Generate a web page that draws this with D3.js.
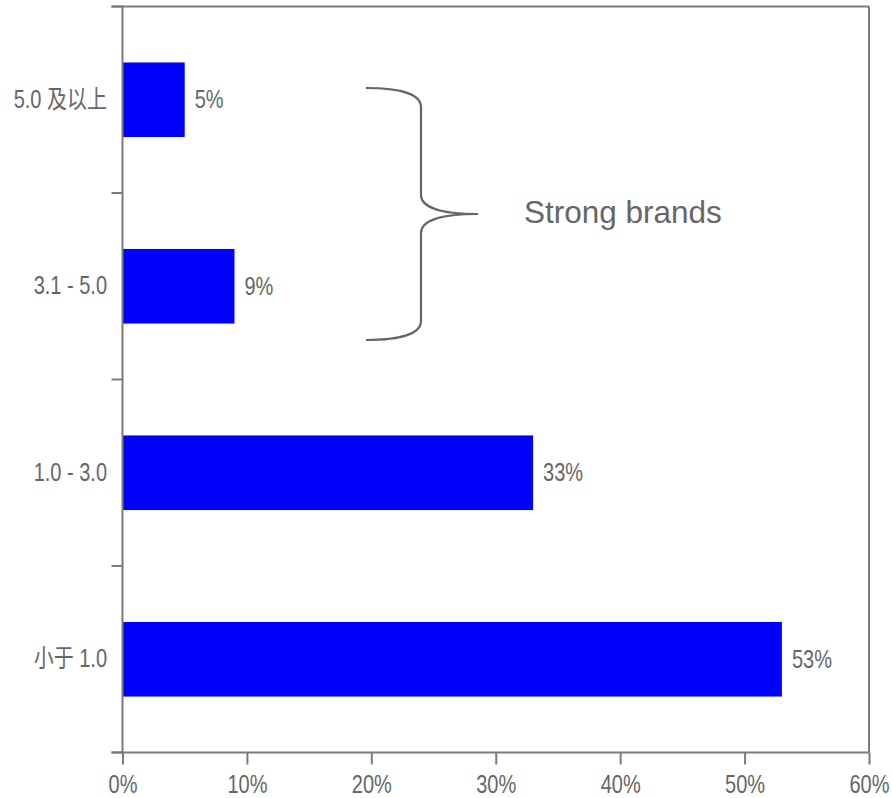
<!DOCTYPE html>
<html>
<head>
<meta charset="utf-8">
<script src="https://cdn.jsdelivr.net/npm/d3@7"></script>
<style>
  html, body { margin: 0; padding: 0; background: #fff; }
  svg { display: block; }
  .lbl { font-family: "Liberation Sans", Arial, "Noto Sans CJK SC", sans-serif; font-size: 25px; fill: #666; }
</style>
</head>
<body>
<svg id="chart" width="892" height="798"></svg>
<script>
// Share of brands by score range
const categories = ["5.0 及以上", "3.1 - 5.0", "1.0 - 3.0", "小于 1.0"];
const shares = [5, 9, 33, 53];
const xTicks = [0, 10, 20, 30, 40, 50, 60];
const bracketLabel = "Strong brands";

const plotLeft = 122.5, plotRight = 869, plotTop = 6.5, plotBottom = 752.5;
const axisColor = "#7a7a7a";
const textColor = "#666";
const condense = 0.8; // labels use a horizontally condensed face

const svg = d3.select("#chart");

// squeeze a label horizontally around its own anchor x
function condensed(sel) {
  sel.attr("transform", function () {
    const ax = +this.getAttribute("x") || 0;
    return `translate(${ax},0) scale(${condense},1) translate(${-ax},0)`;
  });
}

const x = d3.scaleLinear().domain([0, 60]).range([plotLeft, plotRight]);
const y = d3.scaleBand().domain(categories).range([plotTop, plotBottom])
  .paddingInner(0.6).paddingOuter(0.3);

// frame: top and right borders
svg.append("line").attr("x1", plotLeft - 11).attr("x2", plotRight).attr("y1", plotTop).attr("y2", plotTop)
  .attr("stroke", axisColor).attr("stroke-width", 2);
svg.append("line").attr("x1", plotRight).attr("x2", plotRight).attr("y1", plotTop).attr("y2", plotBottom)
  .attr("stroke", axisColor).attr("stroke-width", 2);

// bars
svg.append("g").selectAll("rect").data(categories).join("rect")
  .attr("x", x(0))
  .attr("y", d => y(d))
  .attr("width", (d, i) => x(shares[i]) - x(0))
  .attr("height", y.bandwidth())
  .attr("fill", "#0000ff");

// value labels
svg.append("g").selectAll("text").data(categories).join("text")
  .attr("class", "lbl")
  .attr("x", (d, i) => x(shares[i]) + 10)
  .attr("y", d => y(d) + y.bandwidth() / 2)
  .attr("dy", "0.35em")
  .text((d, i) => shares[i] + "%")
  .call(condensed);

// bottom axis
const xAxis = svg.append("g").attr("transform", `translate(0,${plotBottom})`)
  .call(d3.axisBottom(x).tickValues(xTicks).tickFormat(d => d + "%")
    .tickSize(12).tickSizeOuter(0).tickPadding(11));
xAxis.select(".domain").attr("stroke", axisColor).attr("stroke-width", 2)
  .attr("d", `M${plotLeft - 11},0H${plotRight}`);
xAxis.selectAll(".tick line").attr("stroke", axisColor).attr("stroke-width", 2);
xAxis.attr("font-family", null).attr("font-size", null);
xAxis.selectAll(".tick text").attr("class", "lbl").attr("fill", null).call(condensed);

// left axis: labels centred on bands, ticks between categories
const yAxis = svg.append("g").attr("transform", `translate(${plotLeft},0)`)
  .call(d3.axisLeft(y).tickSize(0).tickPadding(15.5));
yAxis.select(".domain").attr("stroke", axisColor).attr("stroke-width", 2)
  .attr("d", `M0,${plotTop}V${plotBottom}`);
yAxis.attr("font-family", null).attr("font-size", null);
yAxis.selectAll(".tick text").attr("class", "lbl").attr("fill", null).call(condensed);

const step = y.step();
const boundaries = categories.map(c => y(c) - step * y.paddingInner() / 2).concat([plotBottom]);
svg.append("g").selectAll("line").data(boundaries).join("line")
  .attr("x1", plotLeft - 11).attr("x2", plotLeft)
  .attr("y1", d => d).attr("y2", d => d)
  .attr("stroke", axisColor).attr("stroke-width", 2);

// bracket annotation over the two top groups
const bx0 = 366, bx1 = 421, tipX = 478;
const bTop = 88, bBot = 340, bMid = 214;
const bracePath = `M${bx0},${bTop} C${bx0 + 34},${bTop} ${bx1},${bTop + 6} ${bx1},${bTop + 19}
  L${bx1},${bMid - 19} C${bx1},${bMid - 7} ${bx1 + 19},${bMid} ${tipX},${bMid}
  C${bx1 + 19},${bMid} ${bx1},${bMid + 7} ${bx1},${bMid + 19}
  L${bx1},${bBot - 19} C${bx1},${bBot - 6} ${bx0 + 34},${bBot} ${bx0},${bBot}`;
svg.append("path").attr("d", bracePath).attr("fill", "none")
  .attr("stroke", "#666").attr("stroke-width", 2.2);

svg.append("text")
  .attr("x", 524).attr("y", 223)
  .attr("font-family", "'Liberation Sans', Arial, sans-serif")
  .attr("font-size", 31.5)
  .attr("fill", textColor)
  .text(bracketLabel);
</script>
</body>
</html>
